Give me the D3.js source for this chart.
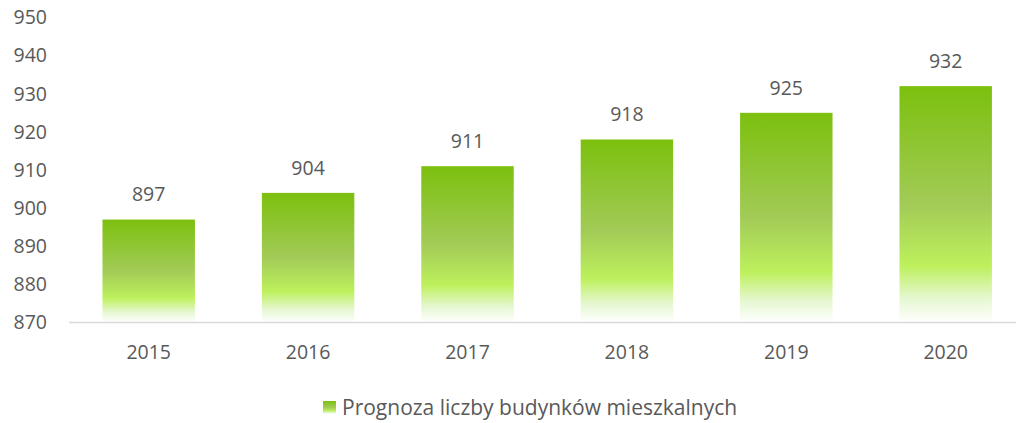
<!DOCTYPE html>
<html>
<head>
<meta charset="utf-8">
<script src="https://cdn.jsdelivr.net/npm/d3@7"></script>
<style>
  body { margin: 0; background: #fff; }
  svg text { font-family: "Open Sans", sans-serif; fill: #595959; }
</style>
</head>
<body>
<div id="chart"></div>
<script>
const years = ["2015", "2016", "2017", "2018", "2019", "2020"];
const values = [897, 904, 911, 918, 925, 932];
const yTicks = [870, 880, 890, 900, 910, 920, 930, 940, 950];
const seriesName = "Prognoza liczby budynków mieszkalnych";

const width = 1016, height = 423;

const svg = d3.select("#chart").append("svg")
  .attr("width", width)
  .attr("height", height);

// gradient for bars
const defs = svg.append("defs");
const grad = defs.append("linearGradient")
  .attr("id", "barGrad")
  .attr("x1", 0).attr("y1", 0).attr("x2", 0).attr("y2", 1);
[[0, "#7cc00e"], [0.5, "#a2cb57"], [0.76, "#bdf05c"], [0.9, "#e6f7d2"], [1, "#ffffff"]]
  .forEach(s => grad.append("stop").attr("offset", s[0]).attr("stop-color", s[1]));

const x = d3.scaleBand()
  .domain(years)
  .range([69, 69 + 6 * 159.4])
  .paddingInner(0.42)
  .paddingOuter(0.21);

const y = d3.scaleLinear()
  .domain([870, 950])
  .range([322.5, 17.5]);

// y labels
svg.append("g")
  .selectAll("text")
  .data(yTicks).enter()
  .append("text")
  .attr("x", 47)
  .attr("y", d => y(d))
  .attr("dy", "0.35em")
  .attr("text-anchor", "end")
  .style("font-size", "19.5px")
  .text(d => d);

// bars
svg.append("g")
  .selectAll("rect")
  .data(values).enter()
  .append("rect")
  .attr("x", (d, i) => x(years[i]))
  .attr("y", d => y(d))
  .attr("width", x.bandwidth())
  .attr("height", d => y(870) - y(d))
  .style("fill", "url(#barGrad)");

// axis line
svg.append("line")
  .attr("x1", 69).attr("x2", width)
  .attr("y1", y(870)).attr("y2", y(870))
  .style("stroke", "#d9d9d9")
  .style("stroke-width", 1.5);

// x labels
svg.append("g")
  .selectAll("text")
  .data(years).enter()
  .append("text")
  .attr("x", d => x(d) + x.bandwidth() / 2)
  .attr("y", 352)
  .attr("dy", "0.35em")
  .attr("text-anchor", "middle")
  .style("font-size", "19.5px")
  .text(d => d);

// value labels
svg.append("g")
  .selectAll("text")
  .data(values).enter()
  .append("text")
  .attr("x", (d, i) => x(years[i]) + x.bandwidth() / 2)
  .attr("y", d => y(d) - 25)
  .attr("dy", "0.35em")
  .attr("text-anchor", "middle")
  .style("font-size", "19.5px")
  .text(d => d);

// legend
const lg = svg.append("g");
lg.append("rect")
  .attr("x", 323).attr("y", 401)
  .attr("width", 13).attr("height", 13)
  .style("fill", "url(#barGrad)");
lg.append("text")
  .attr("x", 342).attr("y", 408)
  .attr("dy", "0.35em")
  .style("font-size", "21px")
  .text(seriesName);
</script>
</body>
</html>
